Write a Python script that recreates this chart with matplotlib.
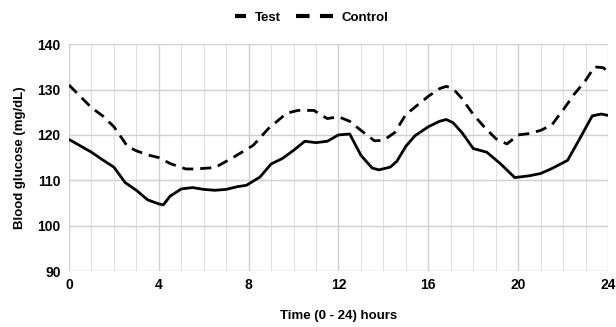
import matplotlib
matplotlib.use("Agg")
import matplotlib.pyplot as plt
from matplotlib.lines import Line2D

plt.rcParams['font.family'] = ["Liberation Sans", "DejaVu Sans"]
plt.rcParams['font.weight'] = 'bold'

hours_test = [0, 0.5, 1, 1.5, 2, 2.5, 3, 3.5, 4, 4.2, 4.5, 5, 5.5, 6, 6.5, 7, 7.5, 7.9, 8.5,
              9, 9.5, 10, 10.5, 11, 11.5, 12, 12.5, 13, 13.5, 13.8, 14.3, 14.6, 15, 15.4, 16,
              16.5, 16.8, 17.1, 17.5, 18, 18.6, 19.2, 19.85, 20.5, 21, 21.5, 22.2, 22.7, 23.3, 23.7, 24]
test = [119, 117.6, 116.2, 114.5, 112.9, 109.5, 107.8, 105.7, 104.8, 104.6, 106.5, 108.1, 108.4, 108.0, 107.8,
        108.0, 108.6, 108.9, 110.7, 113.6, 114.8, 116.6, 118.6, 118.3, 118.6, 120.0, 120.2, 115.5, 112.7, 112.3,
        112.9, 114.2, 117.5, 119.8, 121.8, 123.0, 123.4, 122.7, 120.5, 117.0, 116.2, 113.7, 110.6, 111.0, 111.5,
        112.6, 114.4, 118.8, 124.2, 124.6, 124.3]

hours_ctrl = [0, 0.5, 1, 1.5, 2, 2.6, 3, 3.5, 4, 4.5, 5.2, 5.6, 6.5, 7.3, 8.2, 8.9, 9.7, 10.2, 10.9,
              11.5, 12, 12.5, 13, 13.6, 14, 14.5, 15, 15.5, 16, 16.5, 16.8, 17.1, 17.5, 18, 18.5, 19,
              19.5, 20, 20.5, 21, 21.5, 22, 22.5, 23, 23.4, 23.8, 24]
control = [131, 128.5, 126, 124.2, 121.8, 117.5, 116.5, 115.6, 115.0, 113.7, 112.5, 112.5, 112.8, 115.0, 117.7,
           121.5, 124.8, 125.4, 125.4, 123.6, 124.0, 123.0, 121.0, 118.7, 118.8, 120.5, 124.5, 126.5, 128.5,
           130.2, 130.7, 130.2, 128.0, 124.5, 121.7, 119.2, 118.0, 120.0, 120.3, 121.0, 122.2, 125.5, 129.0,
           132.0, 135.0, 134.8, 133.8]

xticks = [0, 4, 8, 12, 16, 20, 24]
yticks = [90, 100, 110, 120, 130, 140]

fig = plt.figure(figsize=(6.16, 3.27), dpi=100)
ax = fig.add_axes([0.112, 0.171, 0.875, 0.694])
ax.plot(hours_test, test, color='black', lw=2.0, label='Test', solid_capstyle='round')
ax.plot(hours_ctrl, control, color='black', lw=2.0, ls=(0, (4, 2.5)), label='Control')
ax.set_xlim(0, 24)
ax.set_ylim(90, 140)
ax.set_xticks(xticks)
ax.set_xticks(range(0, 25), minor=True)
ax.set_yticks(yticks)
ax.grid(True, which='major', color='#d0d0d0', lw=1.0)
ax.grid(True, which='minor', axis='x', color='#e0e0e0', lw=0.8)
for s in ax.spines.values():
    s.set_visible(False)
ax.tick_params(which='both', length=0, labelsize=10)
ax.tick_params(axis='x', pad=5)
ax.tick_params(axis='y', pad=6)
for lab in ax.get_xticklabels() + ax.get_yticklabels():
    lab.set_fontweight('bold')
ax.set_xlabel('Time (0 - 24) hours', fontsize=9.5, fontweight='bold', labelpad=13)
ax.set_ylabel('Blood glucose (mg/dL)', fontsize=9.5, fontweight='bold', labelpad=8)

h_test = Line2D([], [], color='black', lw=3, ls=(3.25, (3.25, 6.0)), solid_capstyle='butt')
h_ctrl = Line2D([], [], color='black', lw=3, ls=(0, (3.25, 2.5)))
fig.legend([h_test, h_ctrl], ['Test', 'Control'], loc='upper center', bbox_to_anchor=(0.485, 1.0),
           ncol=2, frameon=False, handlelength=2.8, handletextpad=0.6, columnspacing=1.2,
           prop={'weight': 'bold', 'size': 9.5})
fig.savefig('out.png', dpi=100)
